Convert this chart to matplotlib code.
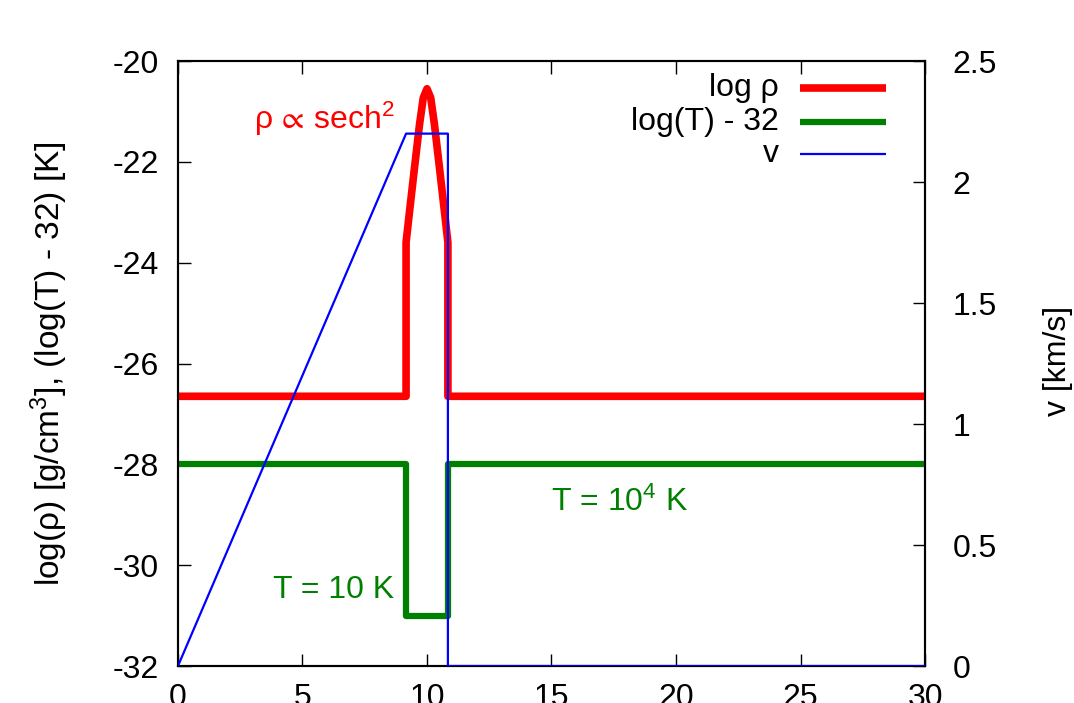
import matplotlib
matplotlib.use("Agg")
import matplotlib.pyplot as plt

plt.rcParams['font.family'] = ['Liberation Sans', 'DejaVu Sans']
plt.rcParams['mathtext.fontset'] = 'custom'
plt.rcParams['mathtext.rm'] = 'Liberation Sans'
plt.rcParams['mathtext.it'] = 'Liberation Sans:italic'
plt.rcParams['mathtext.default'] = 'regular'
plt.rcParams['mathtext.fallback'] = 'stixsans'
plt.rcParams['axes.unicode_minus'] = False
plt.rcParams['font.size'] = 23

# density profile: flat background, sech^2 clump between x0 and x1
x_rho = [0, 9.16, 9.16, 9.3, 9.5, 9.7, 9.85, 10.0, 10.15, 10.3, 10.5, 10.7, 10.84, 10.84, 30]
log_rho = [-26.65, -26.65, -23.6, -22.98, -22.11, -21.26, -20.73, -20.55,
           -20.73, -21.26, -22.11, -22.98, -23.6, -26.65, -26.65]

x_temp = [0, 9.16, 9.16, 10.84, 10.84, 30]
log_temp = [-28.0, -28.0, -31.0, -31.0, -28.0, -28.0]

x_vel = [0, 9.16, 10.84, 10.84, 30]
vel = [0, 2.2, 2.2, 0, 0]

x_ticks = [0, 5, 10, 15, 20, 25, 30]
y_ticks = [-32, -30, -28, -26, -24, -22, -20]
y2_ticks = [0, 0.5, 1, 1.5, 2, 2.5]

fig = plt.figure(figsize=(10.74, 7.03), dpi=100)
ax = fig.add_axes([0.1657, 0.0526, 0.6956, 0.8606])
ax2 = ax.twinx()

ax.plot(x_rho, log_rho, color='red', lw=5.5, solid_joinstyle='round', zorder=3)
ax.plot(x_temp, log_temp, color='green', lw=4.5, zorder=3)
ax2.plot(x_vel, vel, color='blue', lw=1.6, zorder=4)

ax.set_xlim(0, 30)
ax.set_ylim(-32, -20)
ax2.set_ylim(0, 2.5)
ax.set_xticks(x_ticks)
ax.set_yticks(y_ticks)
ax2.set_yticks(y2_ticks)
ax2.set_yticklabels(['0', '0.5', '1', '1.5', '2', '2.5'])

ax.tick_params(axis='x', direction='in', length=9, width=1, top=True, pad=12)
ax.tick_params(axis='y', direction='in', length=9, width=1, right=False, pad=14)
ax2.tick_params(axis='y', direction='in', length=9, width=1, pad=20)
for a in (ax, ax2):
    for s in a.spines.values():
        s.set_linewidth(1.5)

ax.set_ylabel('log(ρ) [g/cm$^3$], (log(T) - 32) [K]', fontsize=24)
ax.yaxis.set_label_coords(-0.145, 0.5)
fig.text(0.985, 0.487, 'v [km/s]', rotation=90, fontsize=23, ha='center', va='center')

ax.text(8.7, -21.15, r'ρ$\,{\propto}\,$sech$^2$', color='red', ha='right', va='center')
ax.text(8.7, -30.5, 'T = 10 K', color='green', ha='right', va='center')
ax.text(15.0, -28.75, 'T = 10$^4$ K', color='green', ha='left', va='center')

# legend, gnuplot style: text right-aligned, sample on the right
entries = [('log ρ', 'red', 5.5), ('log(T) - 32', 'green', 4.5), ('v', 'blue', 1.6)]
rows = [0.955, 0.899, 0.846]
for (lab, col, lw), yy in zip(entries, rows):
    ax.text(0.8046, yy, lab, transform=ax.transAxes, ha='right', va='center')
    ax.plot([0.8327, 0.9478], [yy, yy], transform=ax.transAxes, color=col, lw=lw,
            solid_capstyle='butt', clip_on=False)

fig.savefig('out.png', dpi=100)
